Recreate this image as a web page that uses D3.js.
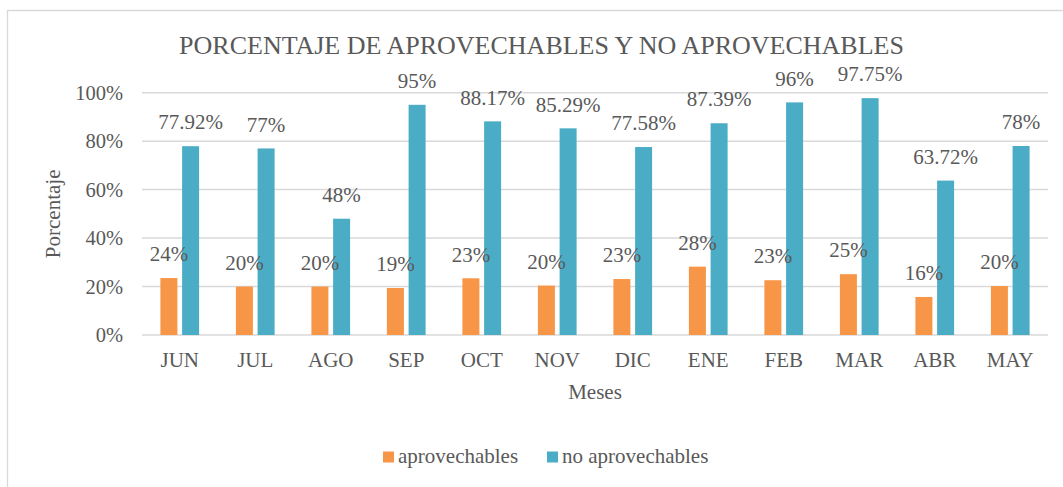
<!DOCTYPE html>
<html>
<head>
<meta charset="utf-8">
<script src="https://cdn.jsdelivr.net/npm/d3@7"></script>
<style>
  html, body { margin: 0; padding: 0; background: #fff; }
  svg { display: block; }
  text { font-family: "Liberation Serif", "Times New Roman", serif; fill: #595959; }
</style>
</head>
<body>
<svg id="chart" width="1063" height="487"></svg>
<script>
const categories = ["JUN","JUL","AGO","SEP","OCT","NOV","DIC","ENE","FEB","MAR","ABR","MAY"];
const seriesNames = ["aprovechables", "no aprovechables"];
const aprovechables = [23.5, 20.0, 20.0, 19.4, 23.4, 20.4, 23.1, 28.2, 22.6, 25.1, 15.7, 20.2];
const noAprovechables = [77.92, 77, 48, 95, 88.17, 85.29, 77.58, 87.39, 96, 97.75, 63.72, 78];
const aprovLabels = ["24%","20%","20%","19%","23%","20%","23%","28%","23%","25%","16%","20%"];
const noAprovLabels = ["77.92%","77%","48%","95%","88.17%","85.29%","77.58%","87.39%","96%","97.75%","63.72%","78%"];
const yTicks = [0, 20, 40, 60, 80, 100];
const colors = ["#F79646", "#4BACC6"];

const svg = d3.select("#chart");
const W = 1063, H = 487;
const plot = { left: 142, right: 1048, top: 92.7, bottom: 335 };

// frame (cropped at right/bottom)
svg.append("path")
  .attr("d", `M7.5,${H} L7.5,10.5 L${W},10.5`)
  .attr("fill", "none").attr("stroke", "#d9d9d9").attr("stroke-width", 1.3);

const x = d3.scaleBand().domain(categories).range([plot.left, plot.right]).padding(0);
const bw = x.bandwidth();
const xs = d3.scaleBand().domain(seriesNames).range([bw * 0.2437, bw * 0.7563]).paddingInner(0.217).paddingOuter(0);
const y = d3.scaleLinear().domain([0, 100]).range([plot.bottom, plot.top]);

// gridlines
svg.append("g").selectAll("line").data(yTicks).join("line")
  .attr("x1", plot.left).attr("x2", plot.right)
  .attr("y1", d => y(d)).attr("y2", d => y(d))
  .attr("stroke", "#d9d9d9").attr("stroke-width", 1.5);

// y tick labels
svg.append("g").selectAll("text").data(yTicks).join("text")
  .attr("x", 123).attr("y", d => y(d) + 7.3)
  .attr("text-anchor", "end").attr("font-size", 20.5)
  .text(d => d + "%");

// bars
const data = categories.map((c, i) => ({ c, vals: [aprovechables[i], noAprovechables[i]], labs: [aprovLabels[i], noAprovLabels[i]] }));
const groups = svg.append("g").selectAll("g").data(data).join("g")
  .attr("transform", d => `translate(${x(d.c)},0)`);

groups.selectAll("rect").data(d => d.vals.map((v, k) => ({ v, k }))).join("rect")
  .attr("x", d => xs(seriesNames[d.k]))
  .attr("width", xs.bandwidth())
  .attr("y", d => y(d.v))
  .attr("height", d => y(0) - y(d.v))
  .attr("fill", d => colors[d.k]);

groups.selectAll("text.lab").data(d => d.vals.map((v, k) => ({ v, k, lab: d.labs[k] }))).join("text")
  .attr("class", "lab")
  .attr("x", d => xs(seriesNames[d.k]) + xs.bandwidth() / 2)
  .attr("y", d => y(d.v) - 16.8)
  .attr("text-anchor", "middle").attr("font-size", 21)
  .text(d => d.lab);

// x axis labels
svg.append("g").selectAll("text").data(categories).join("text")
  .attr("x", d => x(d) + bw / 2).attr("y", 367)
  .attr("text-anchor", "middle").attr("font-size", 21)
  .text(d => d);

// axis titles
svg.append("text").attr("x", 595).attr("y", 399)
  .attr("text-anchor", "middle").attr("font-size", 21).text("Meses");
svg.append("text").attr("transform", `translate(60,${(plot.top + plot.bottom) / 2}) rotate(-90)`)
  .attr("text-anchor", "middle").attr("font-size", 21).text("Porcentaje");

// title
svg.append("text").attr("x", 541.5).attr("y", 54)
  .attr("text-anchor", "middle").attr("font-size", 26)
  .text("PORCENTAJE DE APROVECHABLES Y NO APROVECHABLES");

// legend
const legX = [383, 547];
const leg = svg.append("g").selectAll("g").data(seriesNames).join("g")
  .attr("transform", (d, i) => `translate(${legX[i]},451.5)`);
leg.append("rect").attr("width", 11).attr("height", 11).attr("fill", (d, i) => colors[i]);
leg.append("text").attr("x", 15).attr("y", 11.2).attr("font-size", 21).text(d => d);
</script>
</body>
</html>
